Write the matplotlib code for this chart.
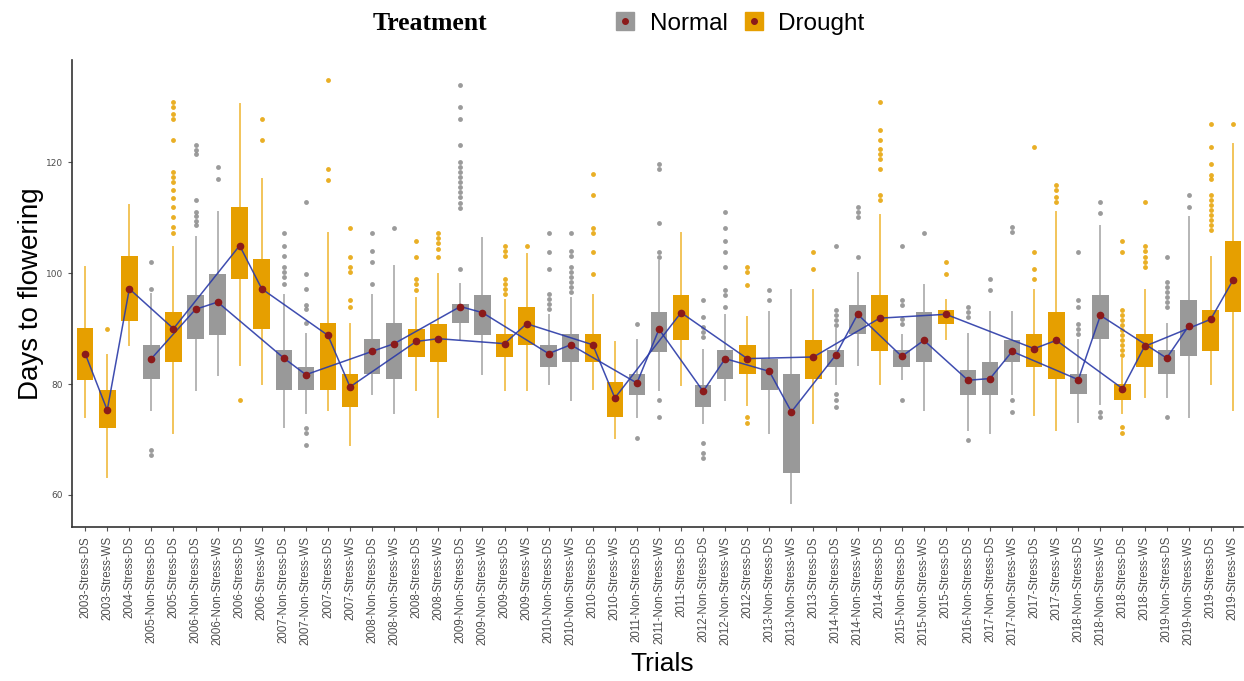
import numpy as np
import matplotlib
matplotlib.use("Agg")
import matplotlib.pyplot as plt
from matplotlib.lines import Line2D
from matplotlib.legend_handler import HandlerTuple

# Trials and treatment (N = Normal, D = Drought)
trials = [
    '2003-Stress-DS', '2003-Stress-WS', '2004-Stress-DS', '2005-Non-Stress-DS', '2005-Stress-DS',
    '2006-Non-Stress-DS', '2006-Non-Stress-WS', '2006-Stress-DS', '2006-Stress-WS',
    '2007-Non-Stress-DS', '2007-Non-Stress-WS', '2007-Stress-DS', '2007-Stress-WS',
    '2008-Non-Stress-DS', '2008-Non-Stress-WS', '2008-Stress-DS', '2008-Stress-WS',
    '2009-Non-Stress-DS', '2009-Non-Stress-WS', '2009-Stress-DS', '2009-Stress-WS',
    '2010-Non-Stress-DS', '2010-Non-Stress-WS', '2010-Stress-DS', '2010-Stress-WS',
    '2011-Non-Stress-DS', '2011-Non-Stress-WS', '2011-Stress-DS',
    '2012-Non-Stress-DS', '2012-Non-Stress-WS', '2012-Stress-DS',
    '2013-Non-Stress-DS', '2013-Non-Stress-WS', '2013-Stress-DS',
    '2014-Non-Stress-DS', '2014-Non-Stress-WS', '2014-Stress-DS',
    '2015-Non-Stress-DS', '2015-Non-Stress-WS', '2015-Stress-DS',
    '2016-Non-Stress-DS', '2017-Non-Stress-DS', '2017-Non-Stress-WS', '2017-Stress-DS', '2017-Stress-WS',
    '2018-Non-Stress-DS', '2018-Non-Stress-WS', '2018-Stress-DS', '2018-Stress-WS',
    '2019-Non-Stress-DS', '2019-Non-Stress-WS', '2019-Stress-DS', '2019-Stress-WS',
]
treatment = ['D', 'D', 'D', 'N', 'D',
             'N', 'N', 'D', 'D',
             'N', 'N', 'D', 'D',
             'N', 'N', 'D', 'D',
             'N', 'N', 'D', 'D',
             'N', 'N', 'D', 'D',
             'N', 'N', 'D',
             'N', 'N', 'D',
             'N', 'N', 'D',
             'N', 'N', 'D',
             'N', 'N', 'D',
             'N', 'N', 'N', 'D', 'D',
             'N', 'N', 'D', 'D',
             'N', 'N', 'D', 'D']

q1 = [80.8, 72.0, 91.4, 81.0, 84.0, 88.1, 88.8, 98.9, 90.0, 79.0, 79.0, 78.9, 75.9,
      81.9, 80.9, 84.9, 84.0, 91.0, 88.8, 84.9, 87.0, 83.1, 84.0, 84.0, 74.1,
      78.0, 85.8, 87.9, 75.9, 81.0, 81.9, 78.9, 64.0, 81.0, 83.1, 89.0, 85.9,
      83.1, 84.0, 90.9, 78.0, 78.0, 84.0, 83.1, 81.0, 78.3, 88.1, 77.1, 83.1,
      81.9, 85.0, 86.0, 93.0]
means = [85.5, 75.3, 97.2, 84.6, 90.0, 93.5, 94.8, 105.0, 97.2, 84.7, 81.7, 88.8, 79.5,
         85.9, 87.3, 87.7, 88.2, 94.0, 92.9, 87.3, 90.9, 85.5, 87.1, 87.1, 77.5,
         80.2, 89.9, 92.9, 78.7, 84.6, 84.6, 82.3, 75.0, 84.9, 85.2, 92.6, 91.9,
         85.0, 87.9, 92.6, 80.7, 81.0, 85.9, 86.4, 87.9, 80.8, 92.4, 79.2, 86.8,
         84.7, 90.5, 91.7, 98.7]
q3 = [90.1, 78.9, 103.1, 87.0, 93.0, 96.0, 99.9, 112.0, 102.5, 86.1, 83.1, 91.0, 81.9,
      88.1, 91.0, 89.9, 90.9, 94.5, 96.0, 89.1, 93.9, 87.0, 89.1, 89.1, 80.4,
      81.9, 93.0, 96.0, 79.8, 86.1, 87.0, 84.6, 81.9, 87.9, 86.1, 94.2, 96.0,
      86.1, 93.0, 93.3, 82.5, 84.0, 87.9, 89.1, 93.0, 81.9, 96.0, 80.1, 89.1,
      86.1, 95.1, 93.3, 105.9]
whis_lo = [74.1, 63.3, 87.0, 75.3, 71.1, 78.9, 81.6, 83.4, 80.1, 72.3, 74.7, 75.3, 69.0,
           78.3, 74.7, 78.9, 74.1, 88.2, 81.9, 78.9, 78.9, 80.1, 77.1, 79.2, 70.2,
           74.1, 79.0, 79.8, 72.9, 77.1, 76.2, 71.1, 58.5, 72.9, 80.1, 83.4, 80.1,
           81.0, 75.3, 88.2, 71.7, 71.1, 78.3, 74.4, 71.7, 73.2, 76.5, 74.7, 77.7,
           77.7, 74.1, 80.1, 75.3]
whis_hi = [101.1, 85.2, 112.3, 96.3, 104.7, 106.5, 111.0, 130.6, 117.1, 96.0, 89.0, 107.2, 90.9,
           96.0, 101.3, 95.5, 99.9, 98.1, 106.3, 95.1, 103.5, 92.5, 95.5, 96.0, 87.6,
           87.9, 102.3, 107.2, 86.1, 92.5, 92.1, 93.0, 96.9, 96.9, 90.0, 100.0, 110.5,
           88.8, 97.8, 95.1, 89.1, 93.0, 93.0, 96.9, 111.0, 87.9, 108.5, 84.5, 96.9,
           90.9, 110.2, 102.9, 123.4]
outliers = [
    [], [90.0], [], [102.0, 97.1, 68.1, 67.2],
    [130.9, 130.0, 128.8, 127.9, 124.0, 118.3, 117.4, 116.5, 115.0, 113.5, 112.0, 110.2, 108.4, 107.2],
    [123.1, 122.3, 121.5, 113.2, 111.0, 110.3, 109.5, 108.8],
    [119.2, 117.1], [77.1], [127.9, 124.0],
    [107.2, 105.0, 103.2, 101.1, 100.2, 99.3, 98.0],
    [112.8, 99.9, 97.1, 94.2, 93.6, 91.0, 72.0, 71.1, 69.0],
    [134.8, 118.9, 116.9],
    [108.1, 102.9, 101.1, 100.2, 95.1, 93.9],
    [107.2, 104.1, 102.0, 98.0],
    [108.1],
    [105.9, 102.9, 99.0, 98.1, 96.9],
    [107.2, 106.3, 105.4, 104.4, 102.9],
    [133.9, 130.0, 127.9, 123.1, 120.1, 119.2, 118.3, 117.4, 116.5, 115.5, 114.6, 113.7, 112.6, 111.7, 100.8],
    [],
    [105.0, 104.1, 103.2, 99.0, 98.1, 97.2, 96.3],
    [105.0],
    [107.2, 103.8, 100.8, 96.3, 95.4, 94.5, 93.6],
    [107.2, 104.1, 103.2, 101.1, 100.2, 99.3, 98.4, 97.5, 96.6],
    [118.0, 114.1, 108.1, 107.2, 103.8, 99.9],
    [],
    [90.9, 70.2],
    [119.8, 118.9, 109.0, 103.8, 102.9, 77.1, 74.1],
    [],
    [95.1, 92.1, 90.3, 89.4, 88.5, 69.3, 67.5, 66.6],
    [111.0, 108.1, 105.9, 103.8, 101.1, 96.9, 96.0, 93.9],
    [101.1, 100.2, 97.8, 74.1, 72.9],
    [96.9, 95.1],
    [],
    [103.8, 100.8],
    [105.0, 93.3, 92.4, 91.5, 90.6, 78.3, 77.1, 75.9],
    [112.0, 111.0, 110.2, 103.0],
    [130.9, 125.8, 124.0, 122.5, 121.6, 120.7, 118.9, 114.1, 113.2],
    [105.0, 95.1, 94.2, 91.8, 90.9, 77.1],
    [107.2],
    [102.0, 99.9],
    [93.9, 93.0, 92.1, 69.9],
    [99.0, 96.9],
    [108.3, 107.4, 77.1, 75.0],
    [122.8, 103.8, 100.8, 99.0],
    [115.9, 115.0, 113.7, 112.8],
    [103.8, 95.1, 93.9, 90.9, 90.0, 89.1],
    [112.8, 110.8, 75.0, 74.1],
    [105.9, 103.8, 93.3, 92.4, 91.5, 90.6, 89.7, 88.8, 87.9, 87.0, 86.1, 85.2, 72.3, 71.1],
    [112.8, 105.0, 104.1, 102.9, 102.0, 101.1],
    [102.9, 98.4, 97.5, 96.6, 95.7, 94.8, 93.9, 74.1],
    [114.1, 112.0],
    [127.0, 122.8, 119.8, 117.7, 117.1, 114.1, 113.2, 112.3, 111.4, 110.5, 109.6, 108.7, 107.8],
    [127.0],
]

fill = {'N': '#999999', 'D': '#E69F00'}
whisk = {'N': '#b5b5b5', 'D': '#f2c45a'}
flier_c = {'N': '#8a8a8a', 'D': '#E6A100'}

fig = plt.figure(figsize=(12.44, 6.81), dpi=100)
ax = fig.add_axes([0.058, 0.226, 0.941, 0.686])

x = np.arange(len(trials))
stats = []
for i in range(len(trials)):
    stats.append(dict(q1=q1[i], med=means[i], q3=q3[i], whislo=whis_lo[i],
                      whishi=whis_hi[i], fliers=outliers[i]))

bp = ax.bxp(stats, positions=x, widths=0.75, patch_artist=True, showcaps=False,
            medianprops=dict(linewidth=0), boxprops=dict(linewidth=0),
            flierprops=dict(marker='o', markersize=3.5, markeredgewidth=0))

for i, t in enumerate(treatment):
    bp['boxes'][i].set_facecolor(fill[t])
    bp['boxes'][i].set_zorder(2)
    for w in bp['whiskers'][2 * i:2 * i + 2]:
        w.set_color(whisk[t])
        w.set_linewidth(1.4)
        w.set_zorder(1)
    bp['fliers'][i].set_markerfacecolor(flier_c[t])
    bp['fliers'][i].set_alpha(0.85)

# mean lines per treatment
trt = np.array(treatment)
mv = np.array(means)
for t in ['N', 'D']:
    sel = trt == t
    ax.plot(x[sel], mv[sel], color='#2a3aa8', lw=1.1, alpha=0.9, zorder=3)

ax.plot(x, means, 'o', color='#8b1a1a', markersize=4.5, zorder=4)

ax.set_xlim(-0.59, 52.45)
ax.set_ylim(54.2, 138.5)
ax.set_yticks([60, 80, 100, 120])
ax.set_xticks(x)
ax.set_xticklabels(trials, rotation=90, fontsize=8.3, color='#4d4d4d', family='Liberation Sans')
ax.tick_params(axis='y', labelsize=6.5, labelcolor='#4d4d4d', length=3, color='#555555')
ax.tick_params(axis='x', length=3, color='#555555')
for s in ['top', 'right']:
    ax.spines[s].set_visible(False)
for s in ['left', 'bottom']:
    ax.spines[s].set_color('#333333')
    ax.spines[s].set_linewidth(1.2)

ax.set_ylabel('Days to flowering', fontsize=20, family='Liberation Sans')
ax.yaxis.set_label_coords(-0.024, 0.5)
fig.text(0.532, 0.025, 'Trials', fontsize=19, family='Liberation Sans', ha='center', va='center')

# legend on top
fig.text(0.346, 0.965, 'Treatment', fontsize=18.5, fontweight='bold', family='Liberation Serif',
         ha='center', va='center')
handles = []
for t in ['N', 'D']:
    sq = Line2D([], [], marker='s', markersize=13, color=fill[t], ls='')
    dot = Line2D([], [], marker='o', markersize=4, color='#8b1a1a', ls='')
    handles.append((sq, dot))
fig.legend(handles, ['Normal', 'Drought'], handler_map={tuple: HandlerTuple(ndivide=1)},
           loc='center', bbox_to_anchor=(0.594, 0.965), ncol=2, frameon=False,
           prop=dict(family='Liberation Sans', size=17.5), handlelength=1.0,
           handletextpad=0.5, columnspacing=0.6)

fig.savefig('out.png', dpi=100)
